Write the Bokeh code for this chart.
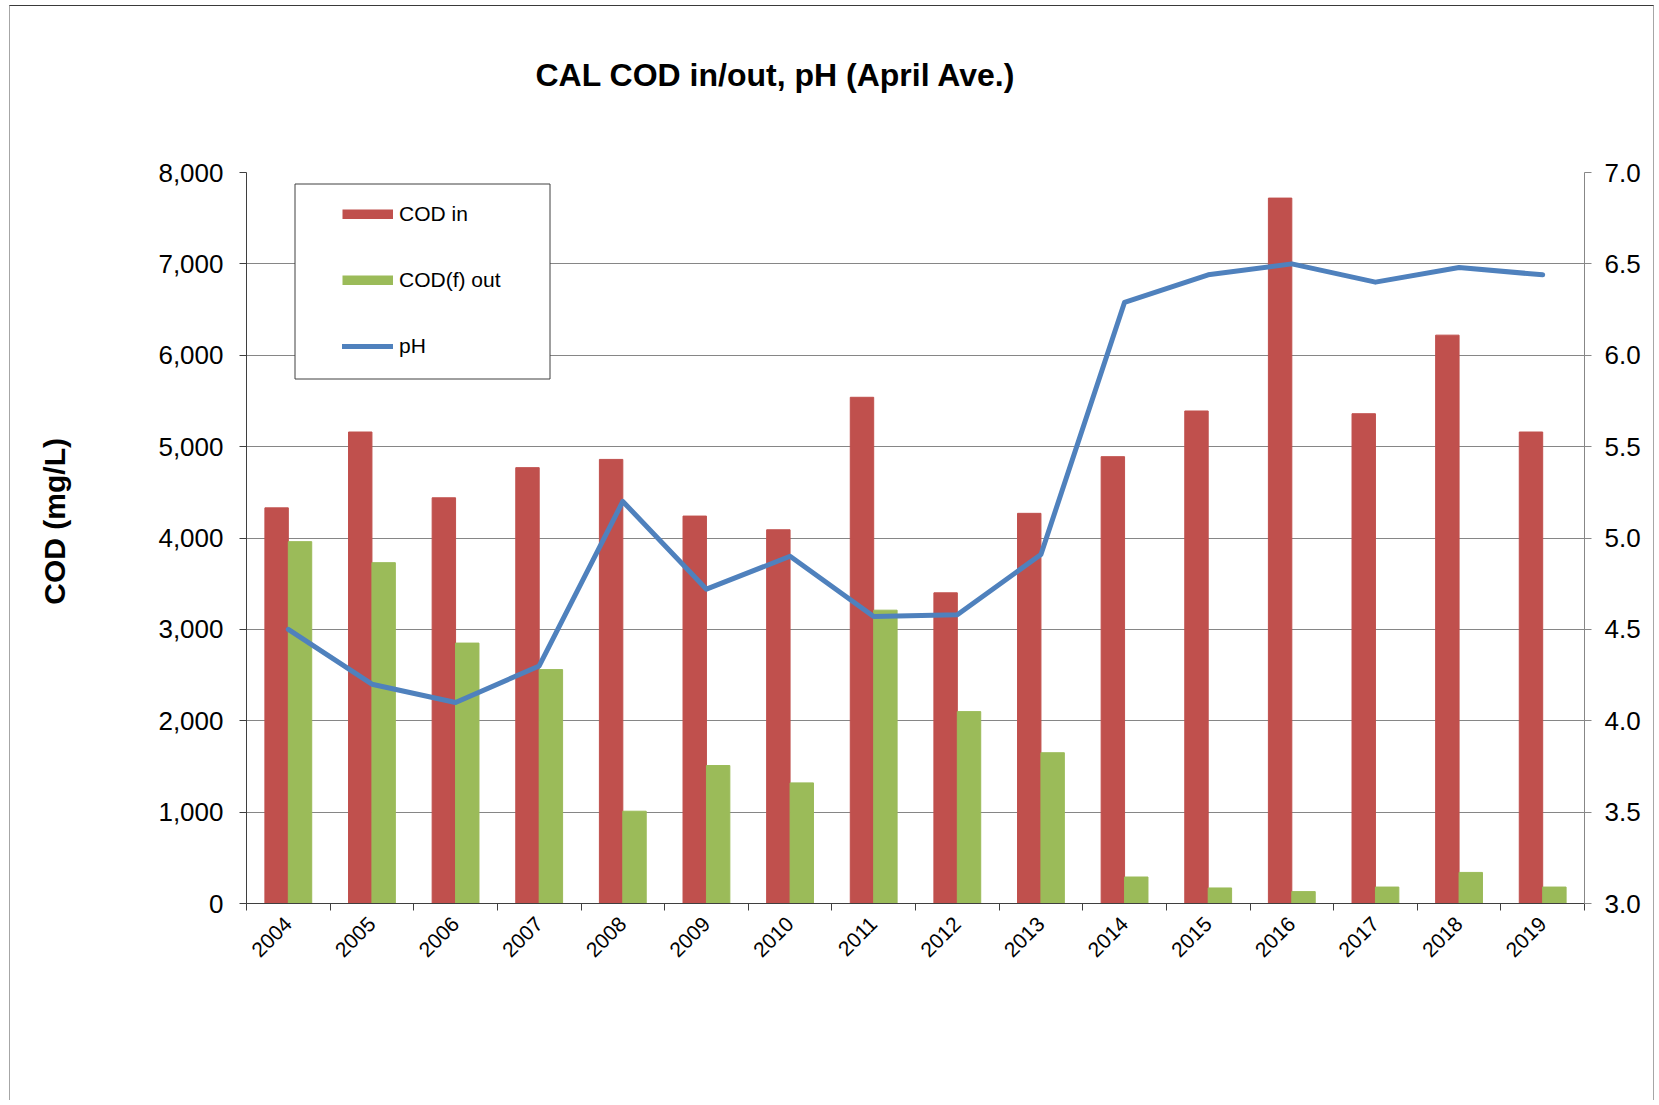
import math
from bokeh.plotting import figure
from bokeh.models import (Range1d, LinearAxis, FixedTicker, NumeralTickFormatter,
                          Legend, LegendItem, BoxAnnotation, ColumnDataSource, Title)
from bokeh.transform import dodge
from bokeh.embed import file_html
from bokeh.resources import INLINE

years = ["2004", "2005", "2006", "2007", "2008", "2009", "2010", "2011",
         "2012", "2013", "2014", "2015", "2016", "2017", "2018", "2019"]
cod_in = [4330, 5160, 4440, 4770, 4860, 4240, 4090, 5540,
          3400, 4270, 4890, 5390, 7720, 5360, 6220, 5160]
cod_out = [3960, 3730, 2850, 2560, 1010, 1510, 1320, 3210,
           2100, 1650, 290, 170, 130, 180, 340, 180]
ph = [4.50, 4.20, 4.10, 4.30, 5.20, 4.72, 4.90, 4.57,
      4.58, 4.91, 6.29, 6.44, 6.50, 6.40, 6.48, 6.44]
cod_ticks = [0, 1000, 2000, 3000, 4000, 5000, 6000, 7000, 8000]
ph_ticks = [3.0, 3.5, 4.0, 4.5, 5.0, 5.5, 6.0, 6.5, 7.0]

RED = "#C0504D"
GREEN = "#9BBB59"
BLUE = "#4F81BD"
FONT = "Liberation Sans"

n = len(years)
centers = [i + 0.5 for i in range(n)]
src = ColumnDataSource(dict(x=centers, year=years, cod_in=cod_in, cod_out=cod_out, ph=ph))
# legend-only swatch source (a single undefined point, nothing drawn in the plot)
swatch_src = ColumnDataSource(dict(x=[float("nan")], y=[float("nan")]))

W, H = 1645, 1095
p = figure(width=W, height=H, output_backend="svg", toolbar_location=None,
           x_range=Range1d(0, n), y_range=Range1d(cod_ticks[0], cod_ticks[-1]),
           min_border_left=236, min_border_right=71, min_border_top=166,
           min_border_bottom=198)
p.outline_line_color = None
p.background_fill_color = "white"
p.border_fill_color = "white"
p.styles = {"margin-left": "9px", "margin-top": "5px",
            "border-top": "1px solid #3a3a3a",
            "border-left": "1px solid #a6a6a6",
            "border-right": "1px solid #a6a6a6"}

p.extra_y_ranges = {"ph": Range1d(ph_ticks[0], ph_ticks[-1])}

# grid
p.xgrid.grid_line_color = None
p.ygrid.ticker = FixedTicker(ticks=cod_ticks)
p.ygrid.grid_line_color = "#868686"
p.ygrid.grid_line_width = 1

r_in = p.vbar(x=dodge("x", -0.14, range=p.x_range), top="cod_in", width=0.28,
              source=src, fill_color=RED, line_color=RED)
r_out = p.vbar(x=dodge("x", 0.14, range=p.x_range), top="cod_out", width=0.28,
               source=src, fill_color=GREEN, line_color=GREEN)
r_ph = p.line(x="x", y="ph", source=src, y_range_name="ph", line_color=BLUE,
              line_width=5, line_join="round", line_cap="round")

sw_in = p.line(x="x", y="y", source=swatch_src, line_color=RED, line_width=10,
               line_cap="butt")
sw_out = p.line(x="x", y="y", source=swatch_src, line_color=GREEN, line_width=10,
                line_cap="butt")

# x axis
xa = p.xaxis[0]
xa.ticker = FixedTicker(ticks=centers, minor_ticks=list(range(n + 1)))
xa.major_label_overrides = {c: y for c, y in zip(centers, years)}
xa.major_tick_line_color = None
xa.minor_tick_line_color = "#3f3f3f"
xa.minor_tick_out = 7
xa.minor_tick_in = 0
xa.axis_line_color = "#3f3f3f"
xa.axis_line_width = 1
xa.major_label_orientation = math.pi / 4
xa.major_label_text_font = FONT
xa.major_label_text_font_size = "21px"
xa.major_label_text_color = "black"
xa.major_label_standoff = 10

# left y axis
ya = p.yaxis[0]
ya.ticker = FixedTicker(ticks=cod_ticks)
ya.formatter = NumeralTickFormatter(format="0,0")
ya.major_tick_out = 7
ya.major_tick_in = 0
ya.major_tick_line_color = "#3f3f3f"
ya.minor_tick_line_color = None
ya.axis_line_color = "#3f3f3f"
ya.major_label_text_font = FONT
ya.major_label_text_font_size = "26px"
ya.major_label_text_color = "black"
ya.major_label_standoff = 16
# leading no-break spaces nudge the centred label slightly upward
ya.axis_label = "\u00a0\u00a0\u00a0\u00a0COD (mg/L)"
ya.axis_label_text_font = FONT
ya.axis_label_text_font_style = "bold"
ya.axis_label_text_font_size = "30px"
ya.axis_label_text_color = "black"
ya.axis_label_standoff = 84

# right y axis
yr = LinearAxis(y_range_name="ph", ticker=FixedTicker(ticks=ph_ticks),
                formatter=NumeralTickFormatter(format="0.0"))
yr.major_tick_out = 7
yr.major_tick_in = 0
yr.major_tick_line_color = "#878787"
yr.minor_tick_line_color = None
yr.axis_line_color = "#878787"
yr.major_label_text_font = FONT
yr.major_label_text_font_size = "26px"
yr.major_label_text_color = "black"
yr.major_label_standoff = 13
p.add_layout(yr, "right")

# legend frame
box = BoxAnnotation(left=48.5, right=303.5, top=719.5, bottom=524.5,
                    left_units="screen", right_units="screen",
                    top_units="screen", bottom_units="screen",
                    fill_color="white", fill_alpha=1.0,
                    line_color="#404040", line_width=1, line_alpha=1.0)
p.add_layout(box)

legend = Legend(items=[LegendItem(label="COD in", renderers=[sw_in]),
                       LegendItem(label="COD(f) out", renderers=[sw_out]),
                       LegendItem(label="pH", renderers=[r_ph])],
                location=(96, 545), glyph_width=51, glyph_height=10,
                label_height=25, spacing=41, padding=0, margin=0,
                border_line_color=None, background_fill_alpha=0,
                label_text_font=FONT, label_text_font_size="21px",
                label_text_color="black", label_standoff=6)
p.add_layout(legend)

# trailing blank line lifts the title further above the frame
title = Title(text="CAL COD in/out, pH (April Ave.)\n", align="left", offset=289,
              standoff=87, text_font=FONT, text_font_style="bold",
              text_font_size="32px", text_color="black")
p.add_layout(title, "above")

open("out.html", "w").write(file_html(p, INLINE))
